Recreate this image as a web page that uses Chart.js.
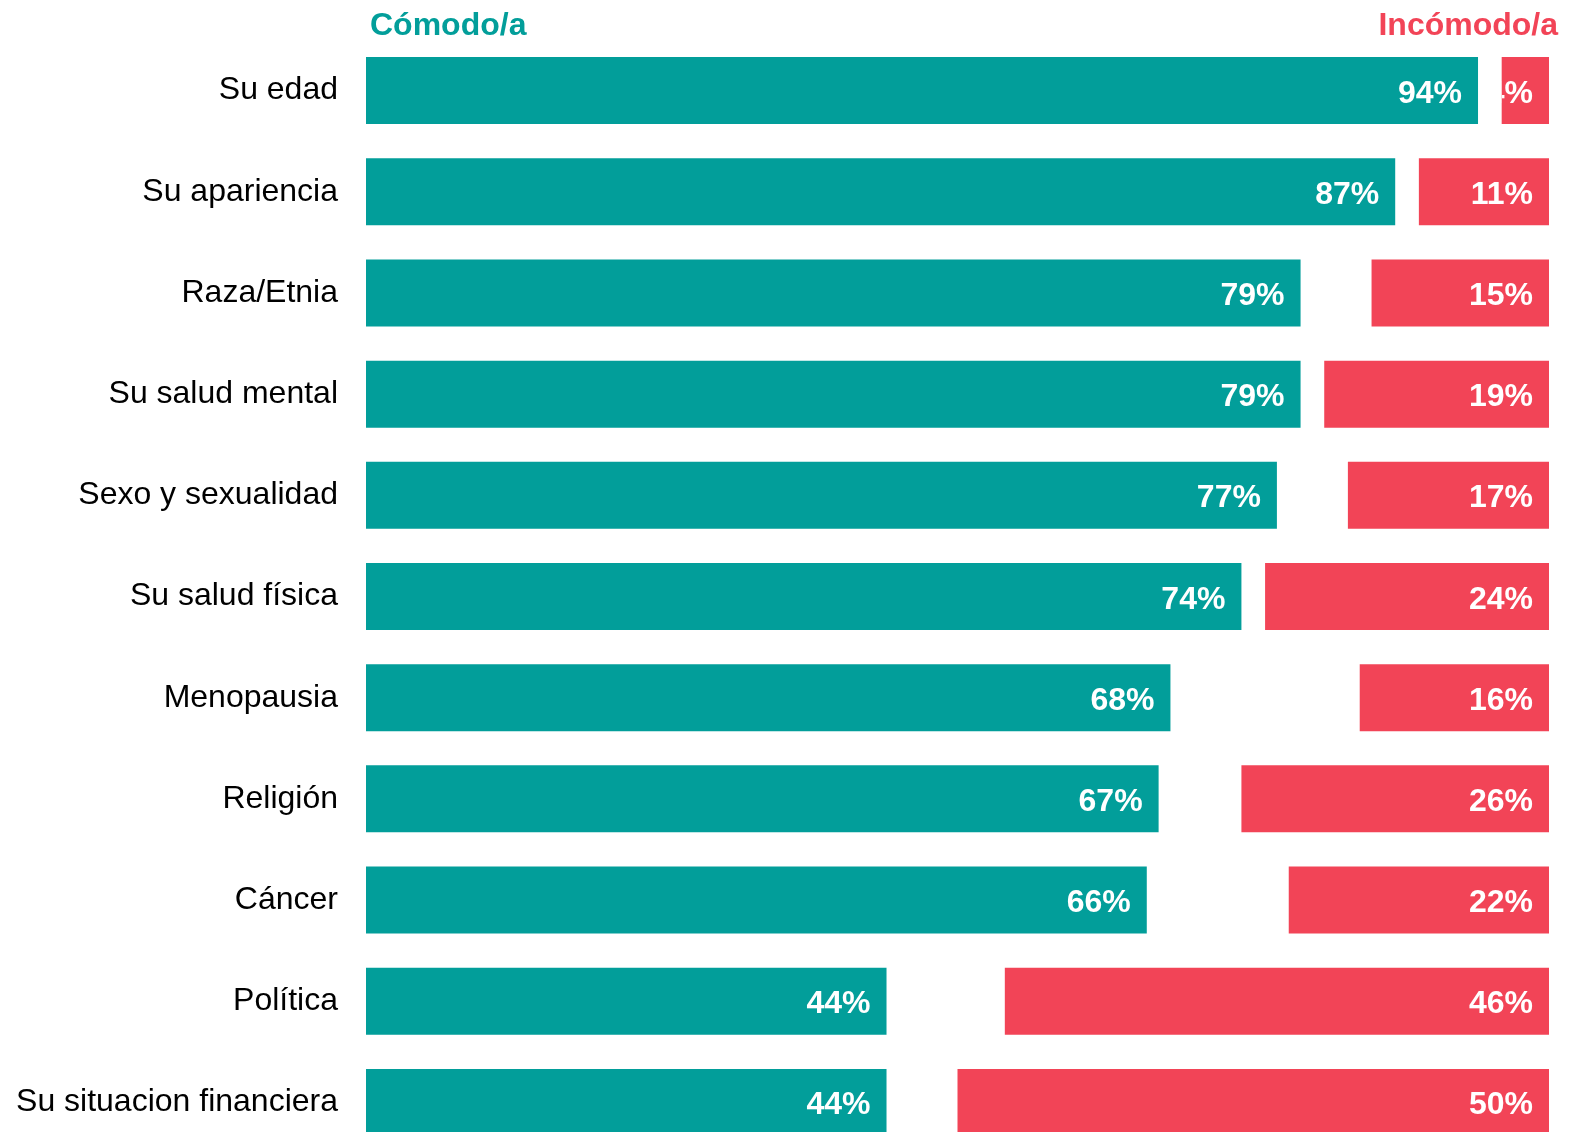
<!DOCTYPE html>
<html>
<head>
<meta charset="utf-8">
<script src="https://cdn.jsdelivr.net/npm/chart.js@4"></script>
<style>
  html, body { margin: 0; padding: 0; background: #fff; overflow: hidden; }
  canvas { display: block; }
</style>
</head>
<body>
<canvas id="comfortChart" width="1587" height="1160"></canvas>
<script>
const categories = ['Su edad', 'Su apariencia', 'Raza/Etnia', 'Su salud mental', 'Sexo y sexualidad',
    'Su salud física', 'Menopausia', 'Religión', 'Cáncer', 'Política', 'Su situacion financiera'];
const comodo = [94, 87, 79, 79, 77, 74, 68, 67, 66, 44, 44];
const incomodo = [4, 11, 15, 19, 17, 24, 16, 26, 22, 46, 50];

const TEAL = '#029E9A';
const RED = '#F24457';
const FONT = '"Liberation Sans", Arial, sans-serif';

// white percentage inside the end of each bar, clipped to the bar itself
const barLabels = {
    id: 'barLabels',
    afterDatasetsDraw(chart) {
        const ctx = chart.ctx;
        chart.data.datasets.forEach((ds, di) => {
            const meta = chart.getDatasetMeta(di);
            meta.data.forEach((bar, i) => {
                const left = Math.min(bar.x, bar.base);
                const right = Math.max(bar.x, bar.base);
                const top = bar.y - bar.height / 2;
                ctx.save();
                ctx.beginPath();
                ctx.rect(left, top, right - left, bar.height);
                ctx.clip();
                ctx.fillStyle = '#fff';
                ctx.font = 'bold 32px ' + FONT;
                ctx.textAlign = 'right';
                ctx.textBaseline = 'alphabetic';
                ctx.fillText(ds.values[i] + '%', right - 16, bar.y + 12);
                ctx.restore();
            });
        });
    }
};

// column headers above the bars
const headers = {
    id: 'headers',
    afterDraw(chart) {
        const ctx = chart.ctx;
        const area = chart.chartArea;
        ctx.save();
        ctx.font = 'bold 32px ' + FONT;
        ctx.textBaseline = 'alphabetic';
        ctx.fillStyle = TEAL;
        ctx.textAlign = 'left';
        ctx.fillText('Cómodo/a', area.left + 4, 35);
        ctx.fillStyle = RED;
        ctx.textAlign = 'right';
        ctx.fillText('Incómodo/a', area.right + 9, 35);
        ctx.restore();
    }
};

new Chart(document.getElementById('comfortChart'), {
    type: 'bar',
    data: {
        labels: categories,
        datasets: [{
            label: 'Cómodo/a',
            data: comodo,
            values: comodo,
            backgroundColor: TEAL,
            grouped: false,
            barPercentage: 1,
            categoryPercentage: 0.662
        }, {
            label: 'Incómodo/a',
            data: incomodo.map(v => [100 - v, 100]),
            values: incomodo,
            backgroundColor: RED,
            grouped: false,
            barPercentage: 1,
            categoryPercentage: 0.662
        }]
    },
    options: {
        indexAxis: 'y',
        responsive: false,
        animation: false,
        layout: { padding: { left: 0, right: 38, top: 40, bottom: 7 } },
        plugins: {
            legend: { display: false },
            tooltip: { enabled: false }
        },
        scales: {
            x: { display: false, min: 0, max: 100 },
            y: {
                grid: { display: false, drawTicks: false },
                border: { display: false },
                afterFit(scale) {
                    // fixed label column; no extra room above/below the first and last label
                    scale.width = 366;
                    scale.paddingTop = 0;
                    scale.paddingBottom = 0;
                },
                ticks: {
                    color: '#000',
                    padding: 28,
                    font: { family: FONT, size: 32 }
                }
            }
        }
    },
    plugins: [barLabels, headers]
});
</script>
</body>
</html>
